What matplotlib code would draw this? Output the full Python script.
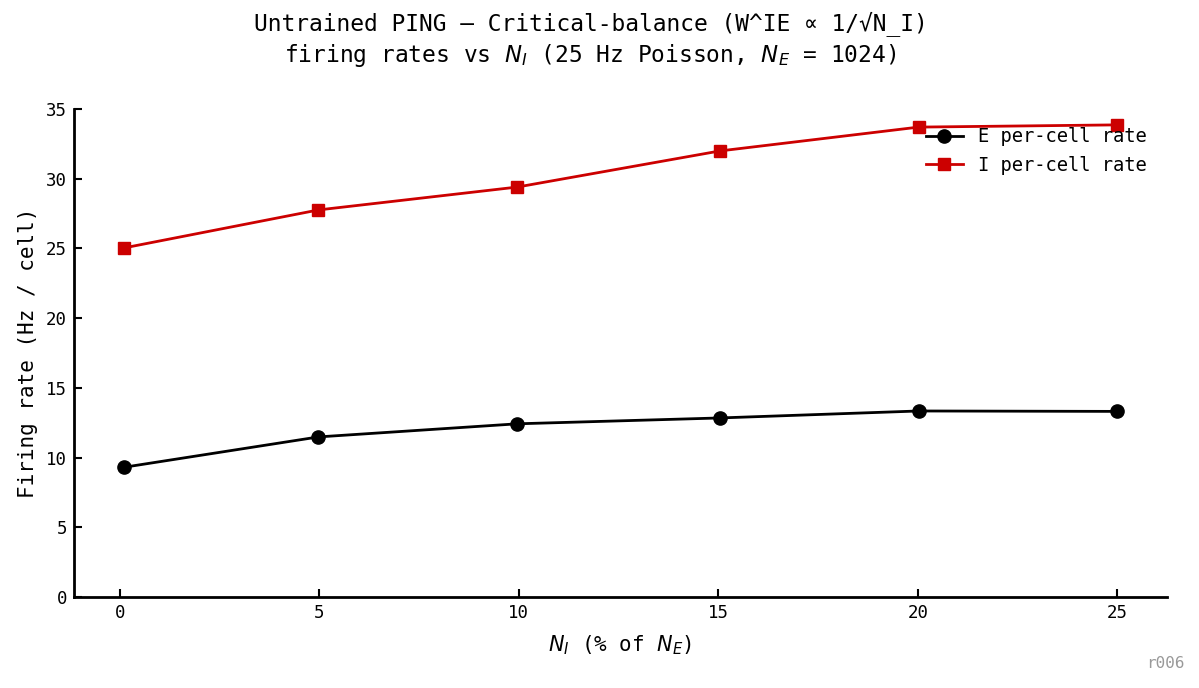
import matplotlib
matplotlib.use("Agg")
import matplotlib.pyplot as plt

plt.rcParams['font.family'] = ['DejaVu Sans Mono', 'DejaVu Sans']
plt.rcParams['mathtext.fontset'] = 'dejavusans'

n_e = 1024
n_i = [1, 51, 102, 154, 205, 256]
x_pct = [v / n_e * 100 for v in n_i]
e_rate = [9.3, 11.48, 12.42, 12.84, 13.34, 13.31]
i_rate = [25.03, 27.76, 29.40, 31.99, 33.70, 33.86]
x_ticks = [0, 5, 10, 15, 20, 25]
y_ticks = [0, 5, 10, 15, 20, 25, 30, 35]

fig = plt.figure(figsize=(11.99, 6.88), dpi=100)
ax = fig.add_axes([0.0617, 0.1323, 0.9733 - 0.0617, 0.8416 - 0.1323])

ax.plot(x_pct, e_rate, color='black', marker='o', markersize=9.5, linewidth=2,
        label='E per-cell rate')
ax.plot(x_pct, i_rate, color='#cc0000', marker='s', markersize=9, linewidth=2,
        label='I per-cell rate')

ax.set_ylim(0, 35)
ax.set_xticks(x_ticks)
ax.set_yticks(y_ticks)
ax.tick_params(direction='in', labelsize=12.5, width=1.5, length=6, pad=5)
for s in ['top', 'right']:
    ax.spines[s].set_visible(False)
for s in ['left', 'bottom']:
    ax.spines[s].set_linewidth(2)

ax.set_xlabel(r'$N_I$ (% of $N_E$)', fontsize=15, labelpad=8)
ax.set_ylabel('Firing rate (Hz / cell)', fontsize=15, labelpad=6)
fig.suptitle('Untrained PING \u2014 Critical-balance (W^IE \u221d 1/\u221aN_I)\n'
             r'firing rates vs $N_I$ (25 Hz Poisson, $N_E$ = 1024)',
             fontsize=16.5, x=0.4925, y=0.983, va='top', linespacing=1.25)
ax.legend(frameon=False, fontsize=13.5, loc='upper right',
          bbox_to_anchor=(0.997, 0.997), handlelength=2)

fig.text(0.988, 0.025, 'r006', color='#999999', fontsize=11.5, ha='right', va='bottom')

fig.savefig('out.png', dpi=100)
